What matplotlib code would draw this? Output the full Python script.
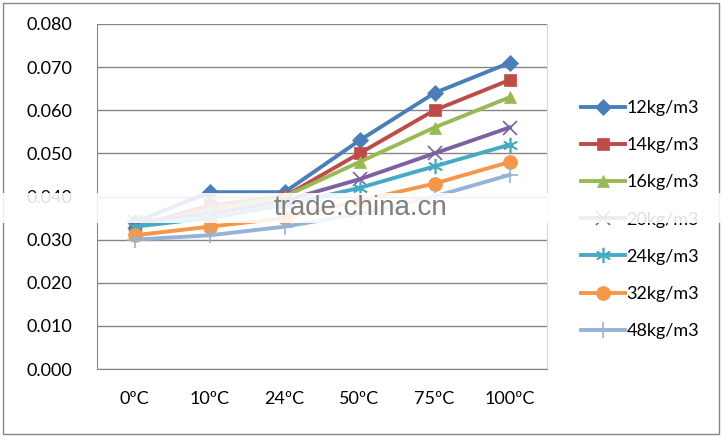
import matplotlib.pyplot as plt
from matplotlib.patches import Rectangle

plt.rcParams['font.family'] = ['Lato', 'DejaVu Sans']

temps = ['0ºC', '10ºC', '24ºC', '50ºC', '75ºC', '100ºC']

s12 = [0.034, 0.041, 0.041, 0.053, 0.064, 0.071]
s14 = [0.033, 0.038, 0.040, 0.050, 0.060, 0.067]
s16 = [0.033, 0.037, 0.040, 0.048, 0.056, 0.063]
s20 = [0.034, 0.036, 0.039, 0.044, 0.050, 0.056]
s24 = [0.033, 0.035, 0.038, 0.042, 0.047, 0.052]
s32 = [0.031, 0.033, 0.035, 0.039, 0.043, 0.048]
s48 = [0.030, 0.031, 0.033, 0.036, 0.040, 0.045]

labels = ['12kg/m3', '14kg/m3', '16kg/m3', '20kg/m3', '24kg/m3', '32kg/m3', '48kg/m3']
series = [s12, s14, s16, s20, s24, s32, s48]
colors = ['#4A7EBB', '#BE4B48', '#98B954', '#7D60A0', '#46AAC5', '#F79646', '#95B3D7']
markers = ['D', 's', '^', 'x', (6, 2, 0), 'o', '+']
msizes = [8, 9, 9, 10, 11, 10, 12]

fig = plt.figure(figsize=(7.22, 4.37), dpi=100)
ax = fig.add_axes([97/722, 1 - 369/437, 450/722, 345/437])

x = range(len(temps))
for vals, lab, c, m, ms in zip(series, labels, colors, markers, msizes):
    ax.plot(x, vals, color=c, lw=2.8, marker=m, markersize=ms,
            markeredgewidth=1.2 if m in ('x', '+') or isinstance(m, tuple) else 0.5,
            markeredgecolor=c, markerfacecolor=c, label=lab, zorder=3)

ax.set_xlim(-0.5, 5.5)
ax.set_ylim(0, 0.080)
ax.set_yticks([i * 0.01 for i in range(9)])
ax.set_yticklabels([f'{i * 0.01:.3f}' for i in range(9)])
ax.set_xticks(list(x))
ax.set_xticklabels(temps)
ax.tick_params(axis='y', length=0, pad=18, labelsize=13)
ax.tick_params(axis='x', length=0, pad=16, labelsize=13)
ax.grid(axis='y', color='#868686', lw=1)
ax.set_axisbelow(True)
for side in ['left', 'bottom']:
    ax.spines[side].set_color('#868686')
ax.spines['top'].set_visible(False)
ax.spines['right'].set_color('#D9D9D9')

fig.legend(loc='upper left', bbox_to_anchor=(574/722, 1 - 93/437), frameon=False,
           fontsize=13, labelspacing=1.17, handlelength=2.4, handletextpad=0.1,
           borderaxespad=0)

# outer chart border
fig.patches.append(Rectangle((3/722, 3/437), 716/722, 431/437, transform=fig.transFigure,
                             fill=False, edgecolor='#868686', lw=1))

# watermark band
fig.patches.append(Rectangle((0, 1 - 223/437), 1, 30/437, transform=fig.transFigure,
                             facecolor='white', alpha=0.88, edgecolor='none', zorder=10))
fig.text(361/722, 1 - 208/437, 'trade.china.cn', ha='center', va='center',
         fontsize=20, color='#7F7F7F', family=['Arial', 'Liberation Sans'], zorder=11)

fig.savefig('out.png', dpi=100)
